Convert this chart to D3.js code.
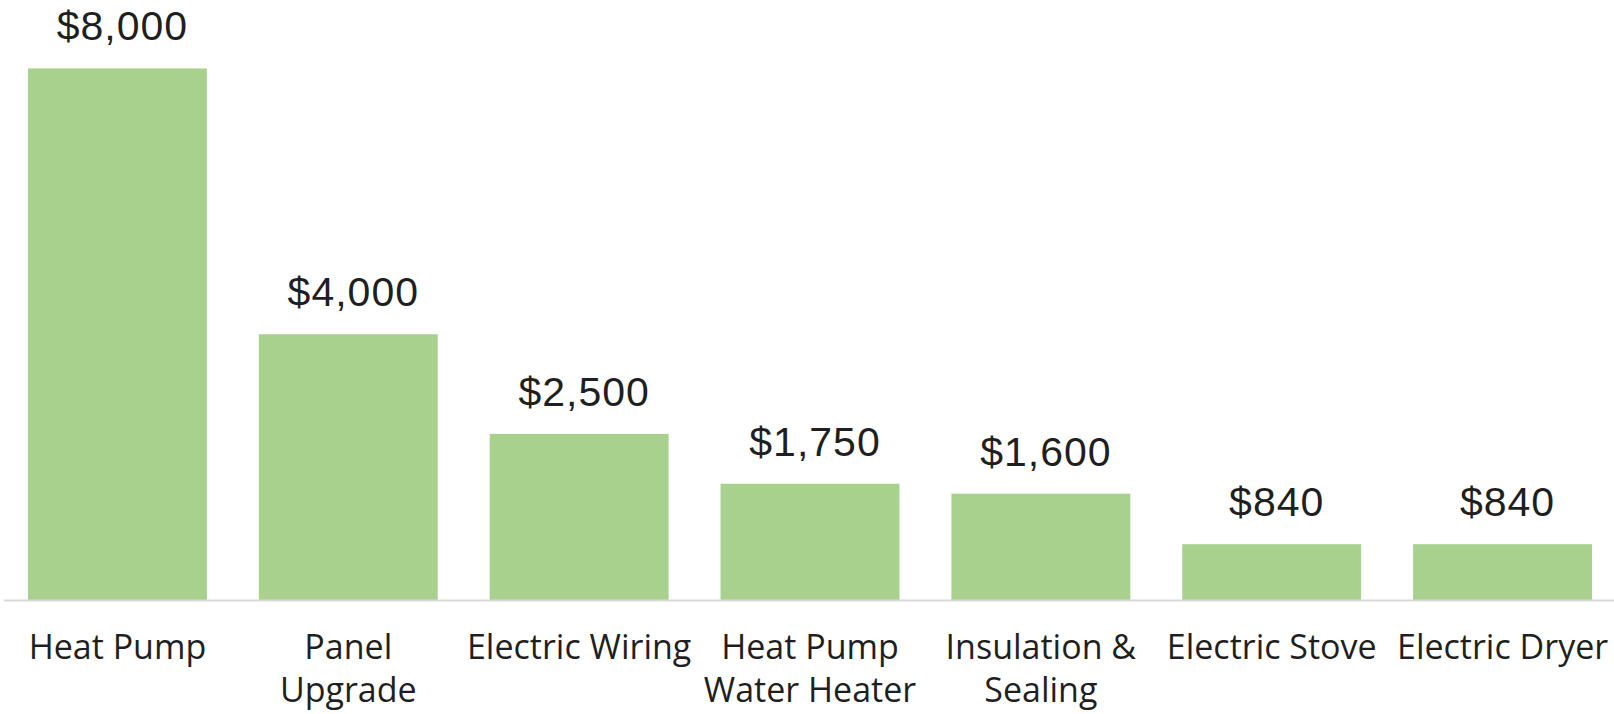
<!DOCTYPE html>
<html>
<head>
<meta charset="utf-8">
<script src="https://cdn.jsdelivr.net/npm/d3@7"></script>
<style>
	html, body { margin: 0; padding: 0; background: #fff; }
	svg { display: block; }
</style>
</head>
<body>
<div class="chart"></div>
<script>
const categories = ["Heat Pump", "Panel Upgrade", "Electric Wiring", "Heat Pump Water Heater", "Insulation & Sealing", "Electric Stove", "Electric Dryer"];
const categoryLines = [["Heat Pump"], ["Panel", "Upgrade"], ["Electric Wiring"], ["Heat Pump", "Water Heater"], ["Insulation &", "Sealing"], ["Electric Stove"], ["Electric Dryer"]];
const costs = [8000, 4000, 2500, 1750, 1600, 840, 840];

const width = 1614;
const height = 714;
const baseline = 600;

const svg = d3.create("svg").attr("width", width).attr("height", height);
d3.select(".chart").append(() => svg.node());

const x = d3.scaleBand().domain(categories).range([2, 1618]).paddingInner(0.225).paddingOuter(0.1125);
const y = d3.scaleLinear().domain([0, 9000]).range([baseline, 2]);

const fmt = (v) => "$" + d3.format(",")(v);

svg.append("g")
	.selectAll("rect")
	.data(costs)
	.join("rect")
	.attr("x", (d, i) => x(categories[i]))
	.attr("y", (d) => y(d))
	.attr("width", x.bandwidth())
	.attr("height", (d) => baseline - y(d))
	.attr("fill", "#a9d18e");

svg.append("line")
	.attr("x1", 4)
	.attr("x2", width)
	.attr("y1", baseline + 0.5)
	.attr("y2", baseline + 0.5)
	.attr("stroke", "#d9d9d9")
	.attr("stroke-width", 2);

// value labels above each bar (sit a little right of centre in the original)
svg.append("g")
	.attr("font-family", "'Liberation Sans', Arial, sans-serif")
	.attr("font-size", 41)
	.attr("letter-spacing", 1)
	.attr("fill", "#1f1f1f")
	.attr("text-anchor", "middle")
	.selectAll("text")
	.data(costs)
	.join("text")
	.attr("x", (d, i) => x(categories[i]) + x.bandwidth() / 2 + 5)
	.attr("y", (d) => y(d) - 28)
	.text(fmt);

const cat = svg.append("g")
	.attr("font-family", "'Open Sans', sans-serif")
	.attr("font-size", 34)
	.attr("fill", "#1f1f1f")
	.attr("text-anchor", "middle")
	.selectAll("text")
	.data(categoryLines)
	.join("text")
	.attr("transform", (d, i) => `translate(${x(categories[i]) + x.bandwidth() / 2}, 659)`);

cat.selectAll("tspan")
	.data((d) => d)
	.join("tspan")
	.attr("x", 0)
	.attr("y", (d, i) => i * 42.5)
	.text((d) => d);
</script>
</body>
</html>
